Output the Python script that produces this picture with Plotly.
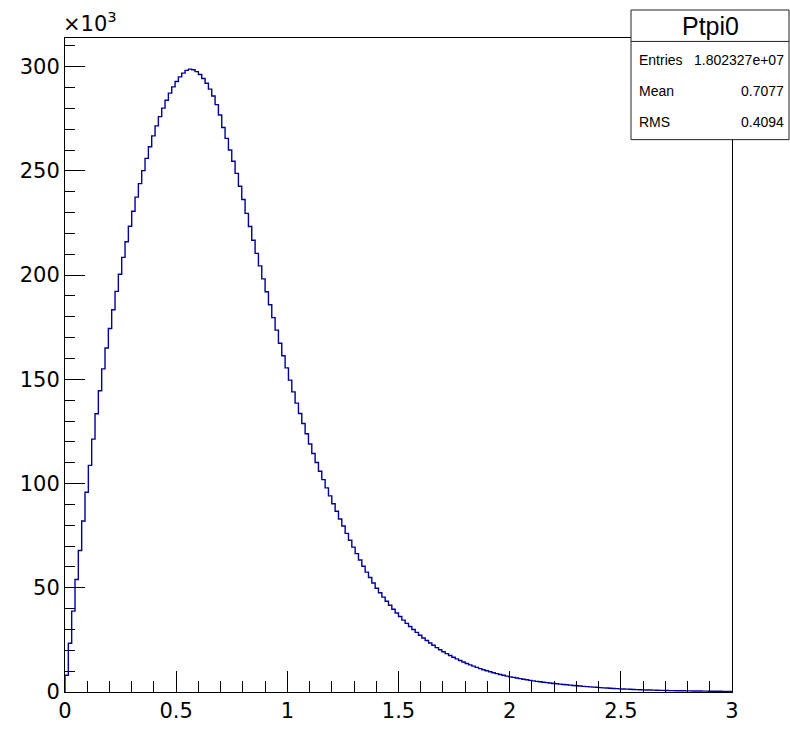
import numpy as np
import plotly.graph_objects as go

# ---- Histogram definition (ROOT TH1 "Ptpi0") ----
nbins = 200
xmin, xmax = 0.0, 3.0

# bin contents in units of 10^3 entries
counts_k = [
    8.0, 23.4, 38.8, 54.0, 67.9, 82.0, 95.8, 108.7, 121.3, 133.5,
    144.5, 155.0, 165.0, 174.4, 183.4, 192.2, 200.4, 208.5, 216.0, 223.4,
    230.6, 237.4, 243.9, 250.1, 256.0, 261.6, 266.8, 271.6, 276.0, 280.1,
    283.9, 287.3, 290.3, 292.9, 295.1, 296.9, 298.2, 298.8, 298.5, 297.6,
    296.2, 294.3, 292.0, 289.2, 285.9, 281.8, 276.8, 270.8, 265.6, 260.0,
    254.6, 248.8, 242.6, 236.3, 229.6, 223.3, 216.7, 210.4, 204.4, 198.2,
    192.0, 185.8, 179.6, 173.6, 167.3, 161.3, 155.5, 149.6, 144.0, 138.6,
    133.6, 128.8, 123.9, 119.0, 114.4, 110.1, 105.9, 101.9, 97.9, 94.1,
    90.3, 86.7, 83.0, 79.6, 76.1, 72.8, 69.5, 66.4, 63.3, 60.3,
    57.5, 54.9, 52.3, 49.8, 47.6, 45.5, 43.5, 41.6, 39.7, 37.9,
    36.2, 34.5, 32.9, 31.4, 30.0, 28.6, 27.2, 25.9, 24.7, 23.5,
    22.4, 21.3, 20.3, 19.3, 18.4, 17.5, 16.7, 15.9, 15.1, 14.4,
    13.7, 13.0, 12.4, 11.8, 11.2, 10.7, 10.2, 9.7, 9.25, 8.8,
    8.4, 8.0, 7.6, 7.25, 7.0, 6.7, 6.4, 6.1, 5.85, 5.6,
    5.35, 5.1, 4.9, 4.7, 4.5, 4.3, 4.1, 3.95, 3.8, 3.6,
    3.45, 3.3, 3.15, 3.0, 2.85, 2.7, 2.6, 2.45, 2.35, 2.25,
    2.1, 2.0, 1.9, 1.8, 1.7, 1.6, 1.52, 1.44, 1.37, 1.3,
    1.23, 1.16, 1.1, 1.04, 0.98, 0.93, 0.88, 0.84, 0.8, 0.76,
    0.72, 0.68, 0.65, 0.62, 0.6, 0.57, 0.54, 0.52, 0.49, 0.47,
    0.45, 0.43, 0.41, 0.39, 0.37, 0.35, 0.34, 0.32, 0.31, 0.29,
]

x_tick_vals = [0, 0.5, 1, 1.5, 2, 2.5, 3]
x_tick_text = ["0", "0.5", "1", "1.5", "2", "2.5", "3"]
y_tick_vals = [0, 50, 100, 150, 200, 250, 300]
y_tick_text = ["0", "50", "100", "150", "200", "250", "300"]

stats_title = "Ptpi0"
stats_labels = ["Entries", "Mean", "RMS"]
stats_values = ["1.802327e+07", "0.7077", "0.4094"]

# ---- step outline ----
n = len(counts_k)
width = (xmax - xmin) / nbins
edges = xmin + width * np.arange(n + 1)
xs = np.concatenate([[edges[0]], edges])
ys = np.concatenate([[0.0], counts_k, [counts_k[-1]]])

ymax = 1.05 * max(counts_k)

W, H = 790, 735
L, R, T, B = 65, 58, 38, 31
pw, ph = W - L - R, H - T - B

def px(x):
    return (x - L) / pw

def py(y):
    return (H - B - y) / ph

FONT = "DejaVu Sans"
SFONT = "Liberation Sans"
LINE = "#000099"

fig = go.Figure()
fig.add_trace(go.Scatter(
    x=xs, y=ys, mode="lines", line=dict(color=LINE, width=1.4, shape="hv"),
    hoverinfo="skip", showlegend=False,
))

axis_common = dict(
    showline=True, linecolor="black", linewidth=1, mirror=True,
    ticks="inside", tickcolor="black", tickwidth=1,
    showgrid=False, zeroline=False,
    tickfont=dict(family=FONT, size=21, color="black"),
)

fig.update_xaxes(
    range=[xmin, xmax], tickvals=x_tick_vals, ticktext=x_tick_text, ticklen=21,
    minor=dict(ticks="inside", ticklen=11, dtick=0.1, tickcolor="black", tickwidth=1, showgrid=False),
    **axis_common,
)
fig.update_yaxes(
    range=[0, ymax], tickvals=y_tick_vals, ticktext=y_tick_text, ticklen=20,
    minor=dict(ticks="inside", ticklen=10, dtick=10, tickcolor="black", tickwidth=1, showgrid=False),
    **axis_common,
)

# stats box
bx0, bx1, by0, by1, bsep = 631, 789, 9.5, 141.5, 41.5
fig.add_shape(type="rect", xref="paper", yref="paper",
              x0=px(bx0), x1=px(bx1), y0=py(by1), y1=py(by0),
              line=dict(color="#222222", width=1), fillcolor="white", layer="above")
fig.add_shape(type="line", xref="paper", yref="paper",
              x0=px(bx0), x1=px(bx1), y0=py(bsep), y1=py(bsep),
              line=dict(color="#222222", width=1), layer="above")

ann = []
ann.append(dict(text=stats_title, x=px((bx0 + bx1) / 2), y=py(25.5), xref="paper", yref="paper",
                xanchor="center", yanchor="middle", showarrow=False,
                font=dict(family=SFONT, size=25, color="black")))
rows_y = [60, 92, 124]
for lab, val, yy in zip(stats_labels, stats_values, rows_y):
    ann.append(dict(text=lab, x=px(637), y=py(yy), xref="paper", yref="paper",
                    xanchor="left", yanchor="middle", showarrow=False,
                    font=dict(family=SFONT, size=14, color="black")))
    ann.append(dict(text=val, x=px(786), y=py(yy), xref="paper", yref="paper",
                    xanchor="right", yanchor="middle", showarrow=False,
                    font=dict(family=SFONT, size=14, color="black")))
ann.append(dict(text="×10<sup>3</sup>", x=px(61), y=py(38.5), xref="paper", yref="paper",
                xanchor="left", yanchor="bottom", showarrow=False,
                font=dict(family=FONT, size=21, color="black")))

fig.update_layout(
    width=W, height=H, margin=dict(l=L, r=R, t=T, b=B, pad=0),
    paper_bgcolor="white", plot_bgcolor="white",
    annotations=ann, showlegend=False,
)

fig.write_html("out.html")
